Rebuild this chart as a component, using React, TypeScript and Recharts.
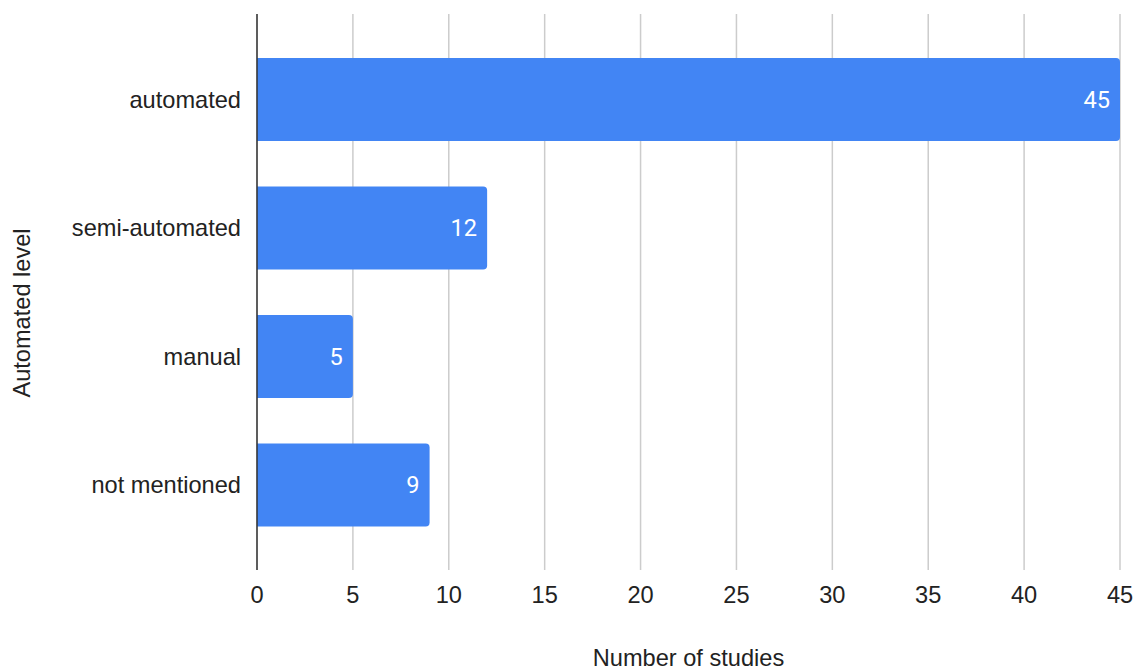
import { BarChart, Bar, XAxis, YAxis, CartesianGrid, LabelList, Label } from "recharts";

const categories = ["automated", "semi-automated", "manual", "not mentioned"];
const studies = [45, 12, 5, 9];
const xTicks = [0, 5, 10, 15, 20, 25, 30, 35, 40, 45];

const data = categories.map((level, i) => ({ level, studies: studies[i] }));

const AXIS_FONT = "'Liberation Sans', Arial, sans-serif";
const FONT_SIZE = 23.6;
const BAR_COLOR = "#4285F4";

export default function App() {
  return (
    <div style={{ position: "absolute", left: 0, top: 0, background: "#fff" }}>
      <BarChart
        width={1139}
        height={671}
        data={data}
        layout="vertical"
        margin={{ top: 14, right: 19, bottom: 0, left: 0 }}
        barCategoryGap={23}
      >
        <CartesianGrid horizontal={false} stroke="#cccccc" strokeWidth={1.5} />
        <XAxis
          type="number"
          domain={[0, 45]}
          ticks={xTicks}
          axisLine={false}
          tickLine={false}
          tickSize={0}
          tickMargin={16}
          height={101}
          tick={{ fill: "#222", fontSize: FONT_SIZE, fontFamily: AXIS_FONT }}
        >
          <Label
            value="Number of studies"
            position="insideBottom"
            offset={5}
            style={{ fill: "#222", fontSize: FONT_SIZE, fontFamily: AXIS_FONT }}
          />
        </XAxis>
        <YAxis
          type="category"
          dataKey="level"
          width={257}
          padding={{ top: 21, bottom: 21 }}
          axisLine={{ stroke: "#333", strokeWidth: 1.5 }}
          tickLine={false}
          tickSize={0}
          tickMargin={16}
          tick={{ fill: "#222", fontSize: FONT_SIZE, fontFamily: AXIS_FONT }}
        >
          <Label
            content={() => (
              <text
                x={30}
                y={313}
                transform="rotate(-90, 30, 313)"
                textAnchor="middle"
                fill="#222"
                fontSize={FONT_SIZE}
                fontFamily={AXIS_FONT}
              >
                Automated level
              </text>
            )}
          />
        </YAxis>
        <Bar dataKey="studies" fill={BAR_COLOR} radius={[0, 4, 4, 0]} isAnimationActive={false}>
          <LabelList
            dataKey="studies"
            position="insideRight"
            offset={10}
            fill="#fff"
            style={{ fontSize: FONT_SIZE, fontFamily: "Roboto, sans-serif" }}
          />
        </Bar>
      </BarChart>
    </div>
  );
}
